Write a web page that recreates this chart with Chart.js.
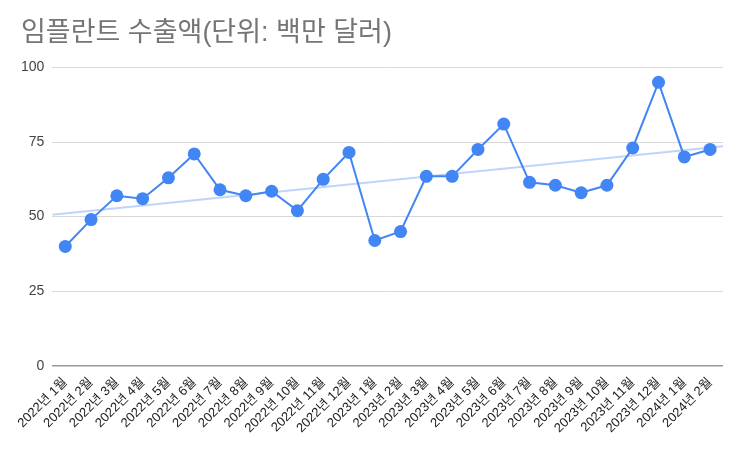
<!DOCTYPE html>
<html>
<head>
<meta charset="utf-8">
<script src="https://cdn.jsdelivr.net/npm/chart.js@4"></script>
<style>
    html, body { margin: 0; padding: 0; background: #fff; }
    #chart_container { width: 740px; height: 452px; }
</style>
</head>
<body>
<div id="chart_container"><canvas id="export_chart"></canvas></div>
<script>
var monthLabels = [
    '2022년 1월', '2022년 2월', '2022년 3월', '2022년 4월', '2022년 5월', '2022년 6월',
    '2022년 7월', '2022년 8월', '2022년 9월', '2022년 10월', '2022년 11월', '2022년 12월',
    '2023년 1월', '2023년 2월', '2023년 3월', '2023년 4월', '2023년 5월', '2023년 6월',
    '2023년 7월', '2023년 8월', '2023년 9월', '2023년 10월', '2023년 11월', '2023년 12월',
    '2024년 1월', '2024년 2월'
];
var exportValues = [
    40, 49, 57, 56, 63, 71,
    59, 57, 58.5, 52, 62.5, 71.5,
    42, 45, 63.5, 63.5, 72.5, 81,
    61.5, 60.5, 58, 60.5, 73, 95,
    70, 72.5
];
var yTicks = [0, 25, 50, 75, 100];
var chartTitle = '임플란트 수출액(단위: 백만 달러)';

var FONT = "'Liberation Sans', 'Noto Sans CJK KR', sans-serif";
var Y_LABEL_GAP = 8;

// least squares trendline over the month index, drawn edge to edge
function trendPoints(values, xMin, xMax) {
    var n = values.length;
    var sx = 0, sy = 0, sxy = 0, sxx = 0;
    for (var i = 0; i < n; i++) {
        sx += i; sy += values[i]; sxy += i * values[i]; sxx += i * i;
    }
    var slope = (n * sxy - sx * sy) / (n * sxx - sx * sx);
    var icpt = (sy - slope * sx) / n;
    return [{x: xMin, y: icpt + slope * xMin}, {x: xMax, y: icpt + slope * xMax}];
}

var points = exportValues.map(function (v, i) { return {x: i, y: v}; });
var xMin = -0.5, xMax = exportValues.length - 0.5;

var ctx = document.getElementById('export_chart').getContext('2d');
var export_chart = new Chart(ctx, {
    type: 'line',
    data: {
        datasets: [{
            label: '수출액',
            data: points,
            borderColor: '#4285f4',
            backgroundColor: '#4285f4',
            borderWidth: 2,
            pointRadius: 6.5,
            pointHoverRadius: 6.5,
            pointBorderWidth: 0,
            tension: 0,
            order: 1
        },
        {
            label: '추세선',
            data: trendPoints(exportValues, xMin, xMax),
            borderColor: 'rgba(66,133,244,0.35)',
            borderWidth: 2,
            pointRadius: 0,
            tension: 0,
            order: 2
        }]
    },
    options: {
        responsive: true,
        maintainAspectRatio: false,
        animation: false,
        layout: {
            padding: {left: 21, right: 17, top: 13, bottom: 15}
        },
        plugins: {
            legend: { display: false },
            tooltip: { enabled: false },
            title: {
                display: true,
                text: chartTitle,
                align: 'start',
                color: '#757575',
                font: { family: FONT, size: 27, weight: 'normal' },
                padding: { top: 4, bottom: 18 }
            }
        },
        scales: {
            x: {
                type: 'linear',
                min: xMin,
                max: xMax,
                afterBuildTicks: function (axis) {
                    axis.ticks = monthLabels.map(function (l, i) { return {value: i}; });
                },
                grid: { display: false },
                border: { display: false },
                ticks: {
                    autoSkip: false,
                    maxRotation: 45,
                    minRotation: 45,
                    padding: 1,
                    color: '#222',
                    font: { family: FONT, size: 13 },
                    callback: function (value) { return monthLabels[value]; }
                }
            },
            y: {
                min: 0,
                max: 100,
                afterBuildTicks: function (axis) {
                    axis.ticks = yTicks.map(function (v) { return {value: v}; });
                },
                // chart.js reserves the tick padding twice; keep it only once
                afterFit: function (axis) {
                    axis.width -= Y_LABEL_GAP;
                },
                border: { display: false },
                grid: {
                    drawTicks: false,
                    color: function (c) { return c.tick && c.tick.value === 0 ? '#999' : '#d9d9d9'; },
                    lineWidth: function (c) { return c.tick && c.tick.value === 0 ? 1.5 : 1; }
                },
                ticks: {
                    padding: Y_LABEL_GAP,
                    color: '#444',
                    font: { family: FONT, size: 14 }
                }
            }
        }
    }
});
</script>
</body>
</html>
